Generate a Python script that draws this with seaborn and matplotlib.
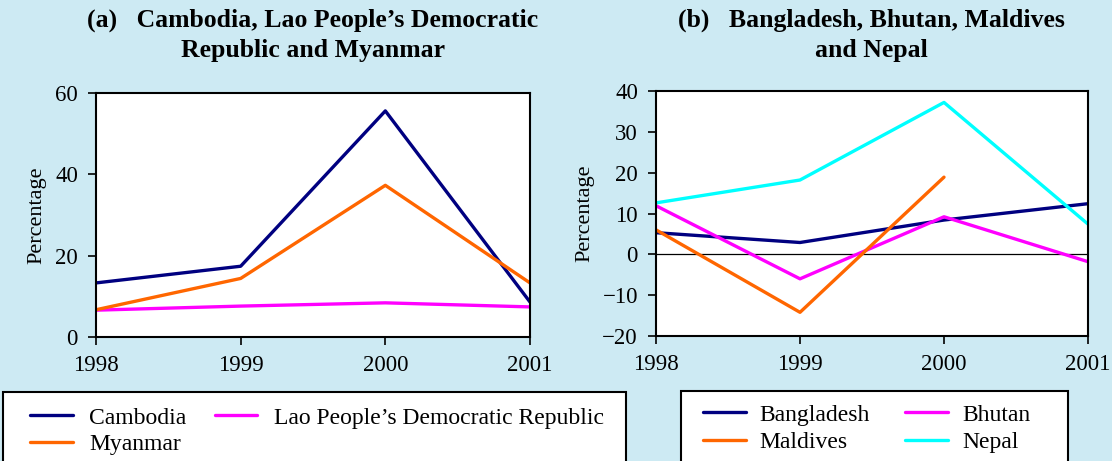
import numpy as np
import pandas as pd
import matplotlib
matplotlib.use("Agg")
import matplotlib.pyplot as plt
from matplotlib.lines import Line2D
from matplotlib.patches import Rectangle
import seaborn as sns

years = [1998, 1999, 2000, 2001]

# Panel (a)
cambodia = [13.3, 17.4, 55.6, 8.6]
lao = [6.6, 7.6, 8.4, 7.4]
myanmar = [6.7, 14.4, 37.3, 13.3]

# Panel (b)
bangladesh = [5.3, 2.9, 8.4, 12.4]
bhutan = [11.9, -6.0, 9.2, -1.8]
maldives = [6.0, -14.2, 18.9, np.nan]
nepal = [12.6, 18.2, 37.2, 7.4]

title_a = "(a)   Cambodia, Lao People\u2019s Democratic\nRepublic and Myanmar"
title_b = "(b)   Bangladesh, Bhutan, Maldives\nand Nepal"

NAVY, ORANGE, MAGENTA, CYAN = "#000080", "#ff6600", "#ff00ff", "#00ffff"
BG = "#cdeaf3"

sns.set_theme(style="white")
plt.rcParams["font.family"] = ["Liberation Serif", "DejaVu Serif"]
plt.rcParams["axes.unicode_minus"] = True
plt.rcParams["text.color"] = "black"
plt.rcParams["axes.labelcolor"] = "black"
plt.rcParams["xtick.color"] = "black"
plt.rcParams["ytick.color"] = "black"

def long_form(series):
    rows = []
    for name, vals in series.items():
        for y, v in zip(years, vals):
            rows.append({"year": y, "value": v, "country": name})
    return pd.DataFrame(rows)

df_a = long_form({"Cambodia": cambodia,
                  "Lao People\u2019s Democratic Republic": lao,
                  "Myanmar": myanmar})
df_b = long_form({"Bangladesh": bangladesh, "Bhutan": bhutan,
                  "Maldives": maldives, "Nepal": nepal})
pal_a = {"Cambodia": NAVY, "Lao People\u2019s Democratic Republic": MAGENTA,
         "Myanmar": ORANGE}
pal_b = {"Bangladesh": NAVY, "Bhutan": MAGENTA, "Maldives": ORANGE,
         "Nepal": CYAN}

W, H = 1112, 461
fig = plt.figure(figsize=(W / 100, H / 100), dpi=100, facecolor=BG)

def px_axes(x0, x1, ytop, ybot):
    return fig.add_axes([x0 / W, 1 - ybot / H, (x1 - x0) / W, (ybot - ytop) / H])

ax_a = px_axes(96, 530, 93, 337)
ax_b = px_axes(656, 1088, 91, 336)

lw = 2.4
sns.lineplot(data=df_a, x="year", y="value", hue="country", palette=pal_a,
             ax=ax_a, linewidth=lw, legend=False, errorbar=None)
sns.lineplot(data=df_b, x="year", y="value", hue="country", palette=pal_b,
             ax=ax_b, linewidth=lw, legend=False, errorbar=None)

ax_b.axhline(0, color="black", linewidth=0.9, zorder=1)

FS = 16.5
for ax, ylim, yticks in [(ax_a, (0, 60), [0, 20, 40, 60]),
                         (ax_b, (-20, 40), [-20, -10, 0, 10, 20, 30, 40])]:
    ax.set_facecolor("white")
    ax.set_xlim(1998, 2001)
    ax.set_ylim(*ylim)
    ax.set_xticks(years)
    ax.set_xticklabels([str(y) for y in years])
    ax.set_yticks(yticks)
    ax.set_xlabel("")
    ax.set_ylabel("Percentage", fontsize=16, labelpad=6)
    ax.tick_params(axis="both", which="major", labelsize=FS, direction="out",
                   length=6, width=1.2, color="black", left=True, bottom=True)
    ax.tick_params(axis="x", pad=7)
    ax.tick_params(axis="y", pad=7)
    for s in ax.spines.values():
        s.set_color("black")
        s.set_linewidth(1.5)

fig.text(313 / W, 1 - 35 / H, title_a, ha="center", va="center",
         fontsize=18.5, fontweight="bold", linespacing=1.4)
fig.text(871 / W, 1 - 35 / H, title_b, ha="center", va="center",
         fontsize=18.5, fontweight="bold", linespacing=1.4)

# Legend boxes
fig.patches.append(Rectangle((3 / W, -0.1), (626 - 3) / W, 0.1 + 1 - 392 / H,
                             transform=fig.transFigure, facecolor="white",
                             edgecolor="black", linewidth=1.5))
fig.patches.append(Rectangle((681 / W, -0.1), (1068 - 681) / W, 0.1 + 1 - 391 / H,
                             transform=fig.transFigure, facecolor="white",
                             edgecolor="black", linewidth=1.5))

def handles(names, pal):
    return [Line2D([], [], color=pal[n], linewidth=lw) for n in names]

LFS = 17
names_a = ["Cambodia", "Myanmar", "Lao People\u2019s Democratic Republic"]
fig.legend(handles(names_a, pal_a), names_a, ncol=2, frameon=False,
           loc="upper left", bbox_to_anchor=(30 / W, 1 - 407 / H),
           borderpad=0, borderaxespad=0, fontsize=LFS, handlelength=1.8,
           handletextpad=0.7, columnspacing=1.2, labelspacing=0.2)

names_b = ["Bangladesh", "Maldives", "Bhutan", "Nepal"]
fig.legend(handles(names_b, pal_b), names_b, ncol=2, frameon=False,
           loc="upper left", bbox_to_anchor=(703 / W, 1 - 404 / H),
           borderpad=0, borderaxespad=0, fontsize=LFS, handlelength=1.8,
           handletextpad=0.6, columnspacing=1.5, labelspacing=0.25)

fig.savefig("out.png", dpi=100, facecolor=BG)
